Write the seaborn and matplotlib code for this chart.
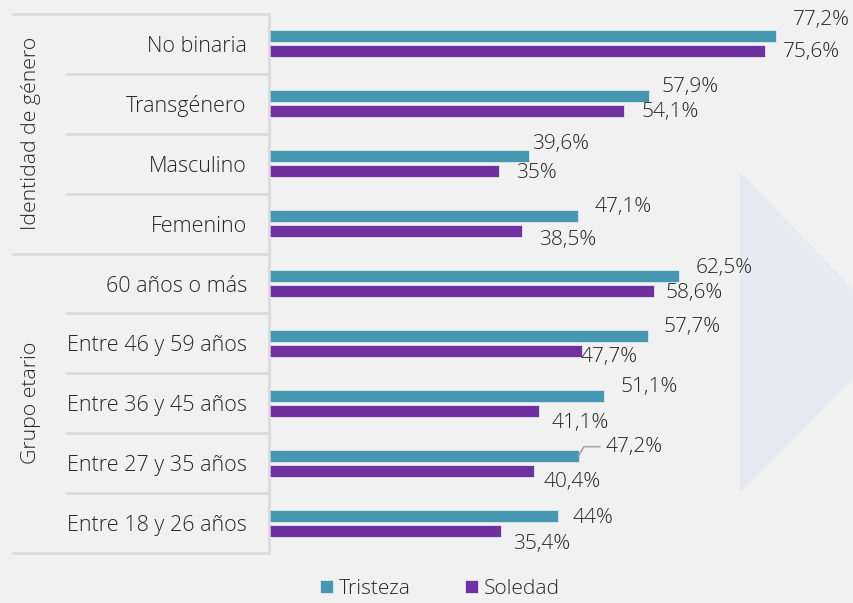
import pandas as pd
import matplotlib.pyplot as plt
import seaborn as sns
from matplotlib.patches import Polygon

categorias = ["No binaria", "Transgénero", "Masculino", "Femenino",
              "60 años o más", "Entre 46 y 59 años", "Entre 36 y 45 años",
              "Entre 27 y 35 años", "Entre 18 y 26 años"]
tristeza = [77.2, 57.9, 39.6, 47.1, 62.5, 57.7, 51.1, 47.2, 44.0]
soledad = [75.6, 54.1, 35.0, 38.5, 58.6, 47.7, 41.1, 40.4, 35.4]
series = ["Tristeza", "Soledad"]
grupos = [("Identidad de género", 0, 3), ("Grupo etario", 4, 8)]

# label offsets in pixels (dx right, dy down) as placed in the original
off_t = [(17, -16), (13, -9), (3, -12), (16, -9), (16, -8), (16, -9), (16, -9), (27, -9), (15, 2)]
off_s = [(18, 1), (17, 1), (17, 2), (17, 9), (12, 2), (-1, 6), (13, 12), (9, 11), (12, 13)]

df = pd.DataFrame({
    "cat": categorias * 2,
    "valor": tristeza + soledad,
    "serie": [series[0]] * len(categorias) + [series[1]] * len(categorias),
})

bg = "#f1f1f1"
colores = ["#4697b0", "#7030a0"]
txt = "#262626"

sns.set_theme(style="white")
plt.rcParams["font.family"] = ["Open Sans", "DejaVu Sans"]
plt.rcParams["font.weight"] = "light"

fig = plt.figure(figsize=(8.54, 6.03), dpi=100, facecolor=bg)
# faint watermark shape in the background
fig.patches.append(Polygon([[740 / 854, 1 - 172 / 603], [1.0, 1 - 290 / 603],
                            [1.0, 1 - 377 / 603], [740 / 854, 1 - 493 / 603]],
                           closed=True, transform=fig.transFigure,
                           facecolor="#e7eaf0", edgecolor="none", zorder=-5))

ax = fig.add_axes([269 / 854, 1 - 553 / 603, 525 / 854, 539 / 603])
ax.set_facecolor("none")
ax.set_zorder(2)

sns.barplot(data=df, y="cat", x="valor", hue="serie", orient="h",
            palette=colores, saturation=1, width=0.5, gap=0.2, ax=ax,
            edgecolor="#dfe9ee", linewidth=0.6)

ax.set_xlim(0, 80)
ax.set_ylim(len(categorias) - 0.5, -0.5)
ax.set_xticks([])
ax.set_xlabel("")
ax.set_ylabel("")
for s in ["top", "right", "bottom"]:
    ax.spines[s].set_visible(False)
ax.spines["left"].set_color("#d9d9d9")
ax.spines["left"].set_linewidth(1.8)
ax.tick_params(axis="y", length=0, pad=16, labelsize=15.5, labelcolor=txt)

# data labels
for cont, vals, offs in zip(ax.containers, [tristeza, soledad], [off_t, off_s]):
    for bar, v, (dx, dy) in zip(cont, vals, offs):
        yc = bar.get_y() + bar.get_height() / 2
        lab = f"{v:g}".replace(".", ",") + "%"
        kw = {}
        if dx > 20:
            kw["arrowprops"] = dict(arrowstyle="-", color="#a6a6a6", lw=1.2,
                                    shrinkA=2, shrinkB=0,
                                    connectionstyle="angle,angleA=0,angleB=60,rad=0")
        ax.annotate(lab, xy=(v, yc), xytext=(dx, -dy), textcoords="offset pixels",
                    ha="left", va="center", fontsize=15, color=txt, **kw)

# category separators and group labels
tr = ax.get_yaxis_transform()
x_in = (65 - 269) / 525
x_out = (12 - 269) / 525
fronteras = [g[1] - 0.5 for g in grupos] + [grupos[-1][2] + 0.5]
for k in range(len(categorias) + 1):
    y = k - 0.5
    x0 = x_out if y in fronteras else x_in
    ax.plot([x0, 0], [y, y], transform=tr, color="#d9d9d9", lw=1.8,
            clip_on=False, solid_capstyle="butt")
for nombre, i0, i1 in grupos:
    ax.text((31 - 269) / 525, (i0 + i1) / 2, nombre, transform=tr, rotation=90,
            ha="center", va="center", fontsize=15.3, color=txt)

handles, labels = ax.get_legend_handles_labels()
ax.legend_.remove()
fig.legend(handles, labels, loc="center", bbox_to_anchor=(440 / 854, 1 - 589 / 603),
           ncol=2, frameon=False, fontsize=15, handlelength=0.6, handleheight=0.6,
           handletextpad=0.3, columnspacing=2.6, labelcolor=txt)

fig.savefig("out.png", dpi=100, facecolor=bg)
